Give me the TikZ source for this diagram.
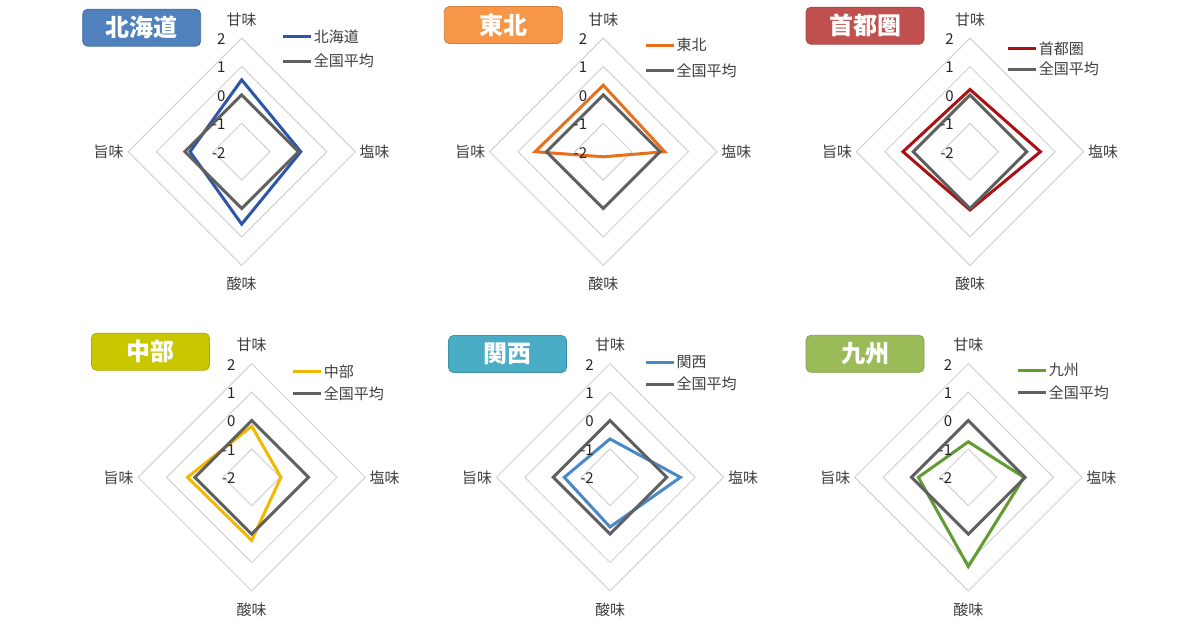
\documentclass[tikz,border=0pt]{standalone}
\usepackage{fontspec}
\setmainfont{Noto Sans CJK JP}
\usetikzlibrary{calc}
\definecolor{gridc}{RGB}{210,210,210}
\definecolor{avgc}{RGB}{96,96,96}
\definecolor{txtc}{RGB}{64,64,64}
\definecolor{lineA}{RGB}{46,86,168}
\definecolor{boxA}{RGB}{79,129,189}
\definecolor{lineB}{RGB}{230,112,30}
\definecolor{boxB}{RGB}{247,150,70}
\definecolor{lineC}{RGB}{170,16,20}
\definecolor{boxC}{RGB}{192,80,77}
\definecolor{lineD}{RGB}{242,184,0}
\definecolor{boxD}{RGB}{201,200,0}
\definecolor{lineE}{RGB}{74,137,200}
\definecolor{boxE}{RGB}{75,172,198}
\definecolor{lineF}{RGB}{96,156,48}
\definecolor{boxF}{RGB}{155,187,89}
\newcommand\uu{28.4}
\tikzset{
  radargrid/.style={draw=gridc, line width=1pt},
  dataline/.style={line width=3pt, line join=miter},
  ticklab/.style={anchor=east, inner sep=0pt, font=\fontsize{15}{17}\selectfont, text=black!85},
  axlab/.style={inner sep=0pt, font=\fontsize{15}{17}\selectfont, text=txtc},
  leglab/.style={anchor=west, inner sep=1pt, font=\fontsize{15}{17}\selectfont, text=txtc},
  legline/.style={line width=3pt},
  titlebox/.style={rounded corners=5pt, minimum width=118pt, minimum height=37pt, inner sep=0pt,
     text=white, font=\fontsize{24}{27}\selectfont\bfseries, line width=0.8pt}
}
% #1 prefix, #2 centre, #3 colour key, #4 title, #5 box centre, #6 legend start, #7 legend gap, #8 values t/r/b/l
\newcommand\rchart[8]{%
  \begin{scope}[shift={(#2)}]
    \foreach \k in {1,2,3,4}
      \draw[radargrid] (0,{-\k*\uu}) -- ({\k*\uu},0) -- (0,{\k*\uu}) -- ({-\k*\uu},0) -- cycle;
    \foreach \vt/\vr/\vb/\vl in {#8}
      \draw[dataline, line#3] (0,{-(\vt+2)*\uu}) -- ({(\vr+2)*\uu},0) -- (0,{(\vb+2)*\uu}) -- ({-(\vl+2)*\uu},0) -- cycle;
    \draw[dataline, avgc] (0,{-2*\uu}) -- ({2*\uu},0) -- (0,{2*\uu}) -- ({-2*\uu},0) -- cycle;
    \foreach \k/\lab in {0/-2,1/-1,2/0,3/1,4/2}
      \node[ticklab] (#1t\k) at (-16,{-\k*\uu+1}) {\lab};
    \node[axlab] (#1top) at (0,-132) {甘味};
    \node[axlab] (#1right) at (133,0) {塩味};
    \node[axlab] (#1bottom) at (0,132) {酸味};
    \node[axlab] (#1left) at (-133,0) {旨味};
  \end{scope}
  \node[titlebox, fill=box#3, draw=box#3!85!black] (#1title) at (#5) {#4};
  \coordinate (#1la) at (#6);
  \coordinate (#1lb) at ($(#1la)+(0,#7)$);
  \draw[legline, line#3] (#1la) -- ++(28,0) node[leglab] (#1na) {#4};
  \draw[legline, avgc] (#1lb) -- ++(28,0) node[leglab] (#1nb) {全国平均};
}
\begin{document}
\begin{tikzpicture}[x=1pt,y=-1pt]
  \useasboundingbox[fill=white] (0,0) rectangle (1200,630);
  \rchart{h}{241.7,151.7}{A}{北海道}{141.7,27.7}{283.3,36.7}{24.3}{0.53/0.08/0.55/-0.18}
  \rchart{t}{603.3,151.7}{B}{東北}{503.3,25}{646,45}{25.7}{0.34/0.16/-1.82/0.4}
  \rchart{s}{970,151.7}{C}{首都圏}{865,25.7}{1008.3,48.3}{20.7}{0.19/0.48/0.05/0.36}
  \rchart{c}{251.7,477.3}{D}{中部}{150.5,351.7}{293.3,371.7}{21.7}{-0.2/-0.97/0.22/0.26}
  \rchart{k}{610,477.3}{E}{関西}{507.5,354}{646,362.3}{21.7}{-0.65/0.48/-0.25/-0.39}
  \rchart{q}{968.3,477.3}{F}{九州}{865,353.8}{1018.3,370}{22.7}{-0.75/-0.04/1.14/-0.24}
\end{tikzpicture}
\end{document}
